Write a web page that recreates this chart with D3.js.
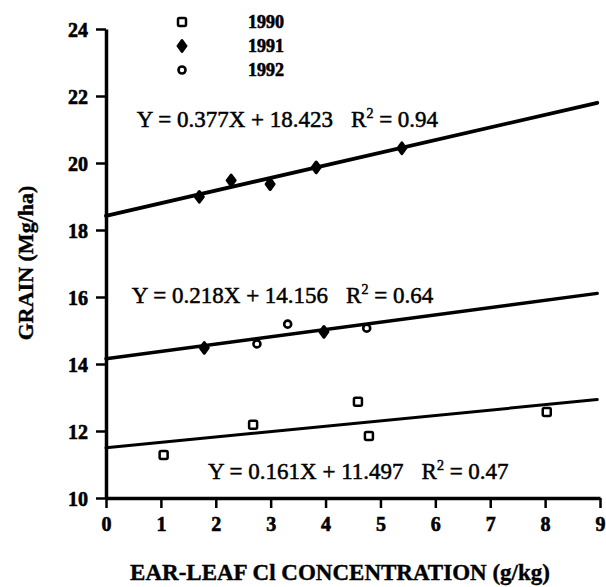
<!DOCTYPE html>
<html>

<head>
    <title>grain vs ear-leaf Cl</title>
    <script src="https://d3js.org/d3.v7.min.js"></script>
    <style>
        body { margin: 0; background: #fff; }
        text { font-family: "Liberation Serif", "Times New Roman", serif; fill: #000; }
    </style>
</head>

<body>
    <svg width="606" height="587" id="mainsvg"></svg>
    <script>
        // data
        const years = ['1990', '1991', '1992'];
        const x1990 = [1.05, 2.68, 4.59, 4.79, 8.03];
        const y1990 = [11.28, 12.19, 12.87, 11.85, 12.57];
        const x1991 = [1.70, 2.28, 2.99, 3.83, 5.39];
        const y1991 = [18.99, 19.48, 19.37, 19.87, 20.44];
        const x1992 = [1.79, 2.75, 3.31, 3.97, 4.75];
        const y1992 = [14.48, 14.60, 15.19, 14.96, 15.07];
        const dark1992 = [true, false, false, true, false];   // these print as solid blobs

        // fitted lines: top (1991), middle (1992), bottom (1990)
        const slopes = [0.377, 0.218, 0.161];
        const intercepts = [18.423, 14.156, 11.497];
        const r2 = ['0.94', '0.64', '0.47'];
        // where each equation sits, in data units (x, y of baseline start)
        const eqAt = [[0.56, 21.07], [0.47, 15.82], [1.86, 10.57]];

        const xTicks = d3.range(0, 10);
        const yTicks = [10, 12, 14, 16, 18, 20, 22, 24];

        const svg = d3.select('#mainsvg');
        const x = d3.scaleLinear().domain([0, 9]).range([106, 600]);
        const y = d3.scaleLinear().domain([10, 24]).range([498, 29]);

        const g = svg.append('g');

        // axes
        const xAxis = g.append('g').attr('transform', `translate(0,${y(10)})`)
            .call(d3.axisBottom(x).tickValues(xTicks).tickFormat(d3.format('d'))
                .tickSize(10).tickSizeOuter(0).tickPadding(9));
        const yAxis = g.append('g').attr('transform', `translate(${x(0)},0)`)
            .call(d3.axisLeft(y).tickValues(yTicks).tickFormat(d3.format('d'))
                .tickSize(10).tickSizeOuter(0).tickPadding(8));

        [xAxis, yAxis].forEach(a => {
            a.select('.domain').attr('stroke', '#000').attr('stroke-width', 3.5);
            a.selectAll('.tick line').attr('stroke', '#000').attr('stroke-width', 2.5);
            a.selectAll('.tick text').attr('fill', '#000')
                .attr('stroke', '#000').attr('stroke-width', 0.6)
                .style('font-family', '"Liberation Serif", "Times New Roman", serif')
                .style('font-weight', 'bold');
        });
        xAxis.selectAll('.tick text').style('font-size', '20px');
        yAxis.selectAll('.tick text').style('font-size', '20px').attr('dy', '0.36em');

        // regression lines
        const widths = [3.8, 3.4, 3];
        slopes.forEach((s, i) => {
            g.append('line')
                .attr('x1', x(0)).attr('y1', y(intercepts[i]))
                .attr('x2', x(8.95)).attr('y2', y(intercepts[i] + s * 8.95))
                .attr('stroke', '#000').attr('stroke-width', widths[i])
                .attr('stroke-linecap', 'round');
        });

        // equations
        slopes.forEach((s, i) => {
            const t = g.append('text')
                .attr('x', x(eqAt[i][0])).attr('y', y(eqAt[i][1]))
                .style('font-size', '23px')
                .attr('stroke', '#000').attr('stroke-width', 0.5);
            t.append('tspan').text(`Y = ${s.toFixed(3)}X + ${intercepts[i].toFixed(3)}`);
            t.append('tspan').attr('dx', 18).text('R');
            t.append('tspan').attr('dy', -9).style('font-size', '14px').text('2');
            t.append('tspan').attr('dy', 9).text(` = ${r2[i]}`);
        });

        // markers
        const drawSquare = (sel, cx, cy) => sel.append('rect')
            .attr('x', cx - 4).attr('y', cy - 4).attr('width', 8).attr('height', 8)
            .attr('rx', 1.5)
            .attr('fill', '#fff').attr('stroke', '#000').attr('stroke-width', 2.5);
        const drawDiamond = (sel, cx, cy) => sel.append('path')
            .attr('d', d3.symbol().type(d3.symbolDiamond).size(38)())
            .attr('transform', `translate(${cx},${cy}) scale(1.25,1)`)
            .attr('fill', '#000').attr('stroke', '#000').attr('stroke-width', 2.2)
            .attr('stroke-linejoin', 'round');
        const drawCircle = (sel, cx, cy) => sel.append('circle')
            .attr('cx', cx).attr('cy', cy).attr('r', 3.5)
            .attr('fill', '#fff').attr('stroke', '#000').attr('stroke-width', 2.6);

        const pts = g.append('g');
        x1990.forEach((d, i) => drawSquare(pts, x(d), y(y1990[i])));
        x1991.forEach((d, i) => drawDiamond(pts, x(d), y(y1991[i])));
        x1992.forEach((d, i) => {
            if (dark1992[i]) drawDiamond(pts, x(d), y(y1992[i]));
            else drawCircle(pts, x(d), y(y1992[i]));
        });

        // legend
        const legend = g.append('g');
        const markers = [drawSquare, drawDiamond, drawCircle];
        years.forEach((yr, i) => {
            const ly = 22 + i * 24;
            markers[i](legend, 182, ly);
            legend.append('text').attr('x', 248).attr('y', ly + 6)
                .style('font-size', '18px').style('font-weight', 'bold')
                .attr('stroke', '#000').attr('stroke-width', 0.6)
                .text(yr);
        });

        // axis titles
        svg.append('text')
            .attr('x', 340).attr('y', 580)
            .attr('text-anchor', 'middle')
            .style('font-size', '23px').style('font-weight', 'bold')
            .attr('stroke', '#000').attr('stroke-width', 0.4)
            .text('EAR-LEAF Cl CONCENTRATION (g/kg)');
        svg.append('text')
            .attr('transform', 'translate(33,263) rotate(-90)')
            .attr('text-anchor', 'middle')
            .style('font-size', '22px').style('font-weight', 'bold')
            .attr('stroke', '#000').attr('stroke-width', 0.4)
            .text('GRAIN (Mg/ha)');
    </script>
</body>

</html>
